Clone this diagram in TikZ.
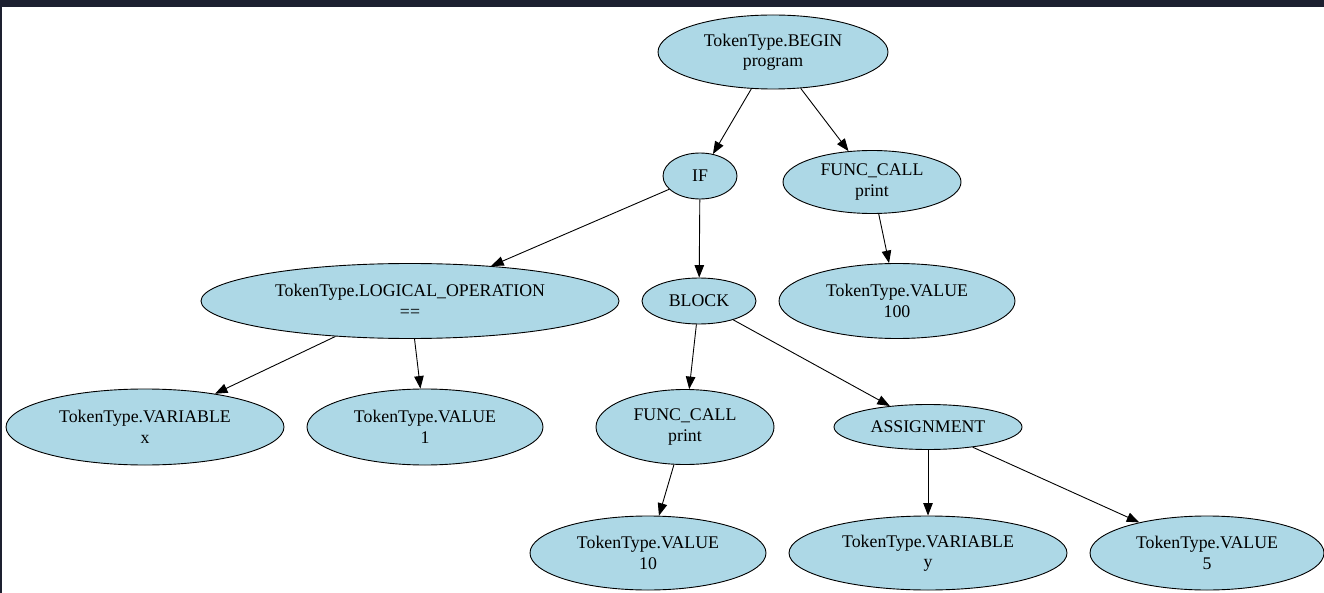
\documentclass[tikz,border=0pt]{standalone}
\usepackage{fontspec}
\setmainfont{Liberation Serif}
\usetikzlibrary{shapes.geometric,arrows.meta}
\definecolor{nodeblue}{HTML}{ADD8E6}
\definecolor{topbar}{HTML}{1D2030}
\begin{document}
\begin{tikzpicture}[x=1pt, y=-1pt, line width=0.9pt,
	tok/.style={ellipse, draw=black, fill=nodeblue, inner sep=0pt, align=center,
		font=\fontsize{17.8}{20.5}\selectfont},
	edge/.style={-{Triangle[length=12.5pt,width=9.5pt]}, line width=0.9pt}]
			%frame
			\useasboundingbox (0,0) rectangle (1324,593);
			\fill[white] (0,0) rectangle (1324,593);
			\fill[topbar] (0,0) rectangle (1324,7);
			\fill[topbar] (0,0) rectangle (1.6,593);
			
			%root and first level
			\node[tok, minimum width=230, minimum height=74] (begin) at (773, 52){TokenType.BEGIN\\program};
			\node[tok, minimum width=74, minimum height=46] (if) at (700, 176){IF};
			\node[tok, minimum width=178, minimum height=63] (fcallA) at (872, 182){FUNC\_CALL\\print};
			
			%second level
			\node[tok, minimum width=418, minimum height=75] (logic) at (410, 301){TokenType.LOGICAL\_OPERATION\\==};
			\node[tok, minimum width=114, minimum height=46] (block) at (699, 301){BLOCK};
			\node[tok, minimum width=236, minimum height=75] (hundred) at (897, 301){TokenType.VALUE\\100};
			
			%third level
			\node[tok, minimum width=278, minimum height=76] (varx) at (145, 427){TokenType.VARIABLE\\x};
			\node[tok, minimum width=236, minimum height=76] (one) at (425, 427){TokenType.VALUE\\1};
			\node[tok, minimum width=178, minimum height=75] (fcallB) at (685, 427){FUNC\_CALL\\print};
			\node[tok, minimum width=188, minimum height=45] (assign) at (928, 427){ASSIGNMENT};
			
			%leaves
			\node[tok, minimum width=236, minimum height=74] (ten) at (648, 553){TokenType.VALUE\\10};
			\node[tok, minimum width=278, minimum height=74] (vary) at (928, 553){TokenType.VARIABLE\\y};
			\node[tok, minimum width=234, minimum height=74] (five) at (1207, 553){TokenType.VALUE\\5};
			
			%edges
			\draw[edge] (begin) -- (if);
			\draw[edge] (begin) -- (fcallA);
			\draw[edge] (if) -- (logic);
			\draw[edge] (if) -- (block);
			\draw[edge] (fcallA) -- (hundred);
			\draw[edge] (logic) -- (varx);
			\draw[edge] (logic) -- (one);
			\draw[edge] (block) -- (fcallB);
			\draw[edge] (block) -- (assign);
			\draw[edge] (fcallB) -- (ten);
			\draw[edge] (assign) -- (vary);
			\draw[edge] (assign) -- (five);
		\end{tikzpicture}
\end{document}
